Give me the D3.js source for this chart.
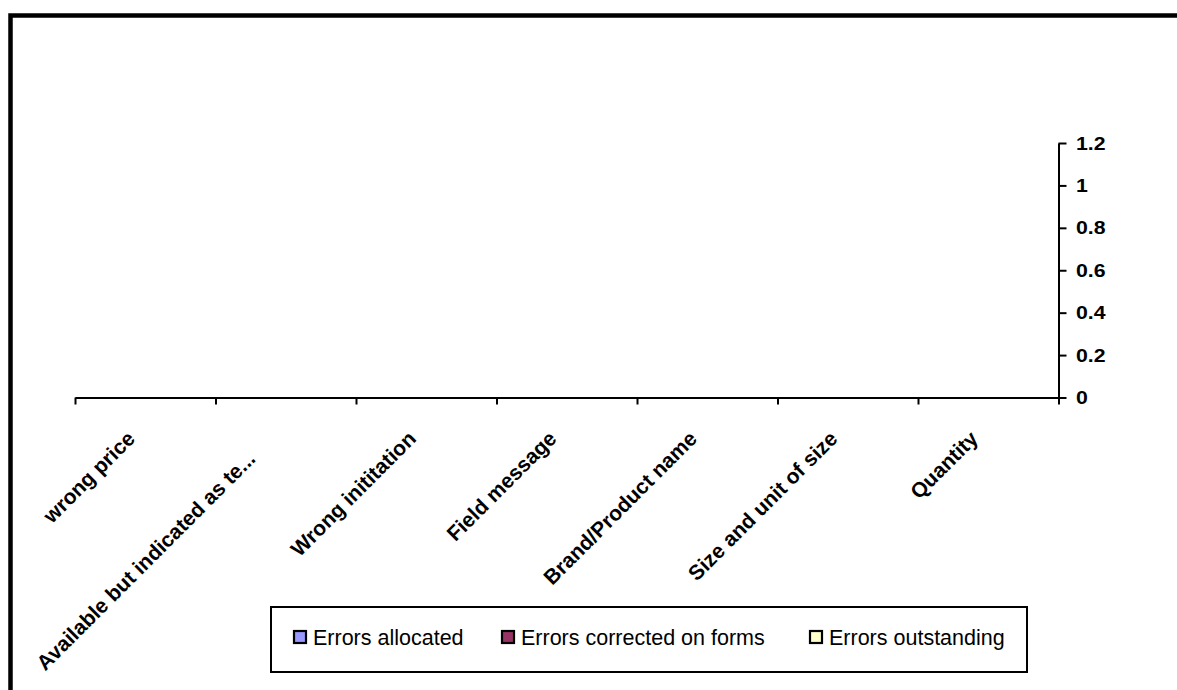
<!DOCTYPE html>
<html>
<head>
<meta charset="utf-8">
<script src="https://cdn.jsdelivr.net/npm/d3@7/dist/d3.min.js"></script>
<style>
  html, body { margin: 0; padding: 0; background: #fff; }
  #plot { width: 1177px; height: 690px; }
  text { font-family: Arial, "Liberation Sans", sans-serif; }
</style>
</head>
<body>
<div id="plot"></div>
<script>
// error categories (x axis) - all series empty in the source chart
const categories = ['wrong price', 'Available but indicated as te...', 'Wrong inititation', 'Field message', 'Brand/Product name', 'Size and unit of size', 'Quantity'];
const errorsAllocated = [0, 0, 0, 0, 0, 0, 0];
const errorsCorrected = [0, 0, 0, 0, 0, 0, 0];
const errorsOutstanding = [0, 0, 0, 0, 0, 0, 0];
const seriesNames = ['Errors allocated', 'Errors corrected on forms', 'Errors outstanding'];
const seriesColors = ['#9999FF', '#993366', '#FFFFCC'];
const yTicks = [0, 0.2, 0.4, 0.6, 0.8, 1, 1.2];

const W = 1177, H = 690;
const svg = d3.select('#plot').append('svg').attr('width', W).attr('height', H);

// chart frame (right/bottom edges run off the picture)
svg.append('rect').attr('x', 10.5).attr('y', 15.5).attr('width', W + 20).attr('height', H + 20)
  .attr('fill', 'none').attr('stroke', '#000').attr('stroke-width', 4.5);

const x = d3.scaleBand().domain(categories).range([75, 1058.5]).padding(0);
const edge = d3.scaleLinear().domain([0, categories.length]).range(x.range());
const y = d3.scaleLinear().domain([0, 1.2]).range([397.5, 143]);

// bars (zero height - nothing shows)
const series = [errorsAllocated, errorsCorrected, errorsOutstanding];
const inner = d3.scaleBand().domain(d3.range(series.length)).range([0, x.bandwidth()]).paddingOuter(0.75);
series.forEach((vals, si) => {
  svg.append('g').selectAll('rect').data(vals).join('rect')
    .attr('x', (d, i) => x(categories[i]) + inner(si))
    .attr('width', inner.bandwidth())
    .attr('y', d => y(d))
    .attr('height', d => y(0) - y(d))
    .attr('fill', seriesColors[si]).attr('stroke', d => d > 0 ? '#000' : 'none');
});

// x axis: ticks on category boundaries
const xAxis = svg.append('g').attr('transform', `translate(0,${y(0)})`)
  .call(d3.axisBottom(edge).tickValues(d3.range(categories.length + 1)).tickFormat('').tickSize(7).tickSizeOuter(0));
xAxis.selectAll('path, line').attr('stroke', '#000').attr('stroke-width', 2);

// y axis on the right (labels drawn a bit wide, like the original)
const yAxis = svg.append('g').attr('transform', `translate(${x.range()[1]},0)`)
  .call(d3.axisRight(y).tickValues(yTicks).tickFormat(d => String(d)).tickSize(8).tickSizeOuter(0));
yAxis.selectAll('path, line').attr('stroke', '#000').attr('stroke-width', 2);
yAxis.selectAll('text').attr('x', 0).attr('transform', 'translate(17.5,0) scale(1.12,1)')
  .attr('fill', '#000').style('font-size', '19px').style('font-weight', 'bold')
  .style('font-family', 'Arial, "Liberation Sans", sans-serif');

// rotated category labels, end of text near the category centre
svg.append('g').selectAll('text').data(categories).join('text')
  .attr('transform', d => {
    let ax = x(d) + x.bandwidth() / 2 - 9, ay = 440;
    if (d.endsWith('...')) { ax -= 20; ay += 20; }
    return `translate(${ax},${ay}) rotate(-45)`;
  })
  .attr('text-anchor', 'end')
  .style('font-size', '21px').style('font-weight', 'bold')
  .text(d => d);

// legend
const lg = svg.append('g');
lg.append('rect').attr('x', 271).attr('y', 607).attr('width', 756).attr('height', 65)
  .attr('fill', '#fff').attr('stroke', '#000').attr('stroke-width', 2);
const legX = [294, 502, 810];
seriesNames.forEach((name, i) => {
  lg.append('rect').attr('x', legX[i]).attr('y', 631).attr('width', 12).attr('height', 12)
    .attr('fill', seriesColors[i]).attr('stroke', '#000').attr('stroke-width', 2.2);
  lg.append('text').attr('x', legX[i] + 19).attr('y', 645).style('font-size', '21.5px').text(name);
});
</script>
</body>
</html>
